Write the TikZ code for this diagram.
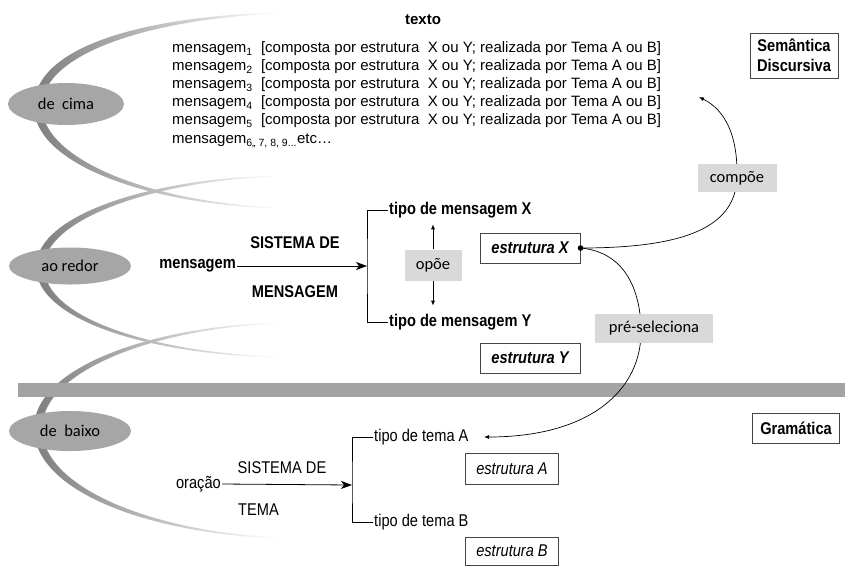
\documentclass[tikz,border=0pt]{standalone}
\usepackage{fontspec}
\setmainfont{Liberation Sans}
\newfontfamily\narrowfont[FakeStretch=0.86]{Liberation Sans}
\newfontfamily\califont{Carlito}
\usetikzlibrary{shapes.geometric,arrows.meta}
\definecolor{arccol}{RGB}{125,125,125}
\definecolor{ellcol}{RGB}{166,166,166}
\definecolor{barcol}{RGB}{163,163,163}
\definecolor{lblcol}{RGB}{217,217,217}
\definecolor{boxcol}{RGB}{70,70,70}
\newcommand\mline[1]{mensagem\textsubscript{#1}\ \ [composta por estrutura\ \ X ou Y; realizada por Tema A ou B]}
\begin{document}
\begin{tikzpicture}[x=1pt,y=-1pt,
  ell/.style={ellipse, fill=ellcol, inner sep=0pt, font=\califont\fontsize{16.5}{18}\selectfont},
  lbl/.style={fill=lblcol, inner sep=0pt, font=\califont\fontsize{16.5}{18}\selectfont},
  ln/.style={anchor=west, inner sep=0pt, font=\fontsize{15}{18}\selectfont},
  nb/.style={inner sep=1pt, font=\narrowfont\bfseries\fontsize{17}{20}\selectfont},
  nr/.style={inner sep=1pt, font=\narrowfont\fontsize{17}{20}\selectfont},
  bx/.style={draw=boxcol, line width=1pt, inner sep=0pt},
  arr/.style={-{Stealth[length=11pt,width=8pt,inset=3pt]}, line width=0.8pt},
  sarr/.style={-{Latex[length=5pt,width=4pt]}, line width=0.7pt},
  crv/.style={line width=0.6pt},
  arcshade/.style={left color=arccol, middle color=arccol, right color=white}
]
\useasboundingbox (0,0) rectangle (845,566);

% arcs
\shade[arcshade]
 (280,12.5) .. controls (140,16) and (32,48) .. (34,108) .. controls (36,165) and (150,205) .. (280,208.5)
 -- (280,207.5) .. controls (152,203) and (44,160) .. (42,108) .. controls (40,55) and (146,19) .. (280,13.5) -- cycle;
\shade[arcshade]
 (280,175.5) .. controls (150,178) and (36,215) .. (36,267) .. controls (36,320) and (150,355) .. (280,357.5)
 -- (280,356.5) .. controls (153,353) and (44,318) .. (44,267) .. controls (44,220) and (153,180) .. (280,176.5) -- cycle;
\shade[arcshade]
 (280,322.5) .. controls (150,326) and (32,368) .. (34,430) .. controls (36,492) and (150,534) .. (280,538.5)
 -- (280,537.5) .. controls (153,532) and (44,488) .. (42,430) .. controls (40,372) and (153,328) .. (280,323.5) -- cycle;

% separator bar
\fill[barcol] (18,383) rectangle (845,397);

% ellipses
\node[ell, minimum width=116pt, minimum height=42pt] (cima) at (66,104) {de\hspace{0.45em}cima};
\node[ell, minimum width=122pt, minimum height=37pt] (redor) at (70,266) {ao redor};
\node[ell, minimum width=122pt, minimum height=40pt] (baixo) at (70,431) {de\hspace{0.45em}baixo};

% text block
\node[inner sep=0pt, font=\bfseries\fontsize{15}{18}\selectfont] (texto) at (423,20) {texto};
\foreach \i/\yy in {1/49,2/67,3/85,4/103,5/121}
  \node[ln] (m\i) at (172,\yy) {\mline{\i}};
\node[ln] (m6) at (172,141) {mensagem\textsubscript{6,, 7, 8, 9...}etc…};

% right boxes
\node[bx, minimum width=88pt, minimum height=45pt, align=center,
  font=\narrowfont\bfseries\fontsize{17}{20}\selectfont] (sem) at (794,55.5) {Semântica\\Discursiva};
\node[bx, minimum width=87pt, minimum height=30pt,
  font=\narrowfont\bfseries\fontsize{17}{20}\selectfont] (gram) at (796,428) {Gramática};

% message system
\node[nb, anchor=east] (msg) at (237,266) {mensagem};
\node[nb] (sis1) at (295,243) {SISTEMA DE};
\node[nb] (mens) at (295,292) {MENSAGEM};
\coordinate (br1) at (367,266);
\node[nb, anchor=west] (tX) at (388,210) {tipo de mensagem X};
\node[nb, anchor=west] (tY) at (388,322) {tipo de mensagem Y};
\draw[arr] (msg.east) -- (br1);
\draw[line width=0.8pt] (tX.west) -| (br1) |- (tY.west);
\node[lbl, minimum width=57pt, minimum height=31pt] (opoe) at (433,265) {opõe};
\draw[sarr] (opoe.north) -- ++(0,-25);
\draw[sarr] (opoe.south) -- ++(0,25);
\node[bx, minimum width=100pt, minimum height=30pt,
  font=\narrowfont\bfseries\itshape\fontsize{17}{20}\selectfont] (estX) at (530,248) {estrutura X};
\node[bx, minimum width=100pt, minimum height=30pt,
  font=\narrowfont\bfseries\itshape\fontsize{17}{20}\selectfont] (estY) at (530,358) {estrutura Y};

% theme system
\node[nr, anchor=east] (orac) at (222,484) {oração};
\node[nr] (sis2) at (282,468) {SISTEMA DE};
\node[nr, anchor=west] (tema) at (237,510) {TEMA};
\coordinate (br2) at (352,485);
\node[nr, anchor=west] (tA) at (373,437) {tipo de tema A};
\node[nr, anchor=west] (tB) at (373,522) {tipo de tema B};
\draw[arr] (orac.east) -- (br2);
\draw[line width=0.8pt] (tA.west) -| (br2) |- (tB.west);
\node[bx, minimum width=93pt, minimum height=31pt,
  font=\narrowfont\itshape\fontsize{17}{20}\selectfont] (estA) at (512,469) {estrutura A};
\node[bx, minimum width=93pt, minimum height=28pt,
  font=\narrowfont\itshape\fontsize{17}{20}\selectfont] (estB) at (512,551) {estrutura B};

% curved connectors
\coordinate (ctip) at (699,97);
\coordinate (ptip) at (484,437);
\draw[crv, sarr] (estX.east) .. controls (690,248) and (735,225) .. (737,178)
   .. controls (738,135) and (725,110) .. (ctip);
\draw[crv, sarr] (estX.east) .. controls (625,252) and (640,290) .. (641,328)
   .. controls (643,390) and (590,437) .. (ptip);
\fill (estX.east) circle (2.8pt);
\node[lbl, minimum width=79pt, minimum height=28pt] (compoe) at (737,178) {compõe};
\node[lbl, minimum width=118pt, minimum height=29pt] (presel) at (654,328) {pré-seleciona};
\end{tikzpicture}
\end{document}
